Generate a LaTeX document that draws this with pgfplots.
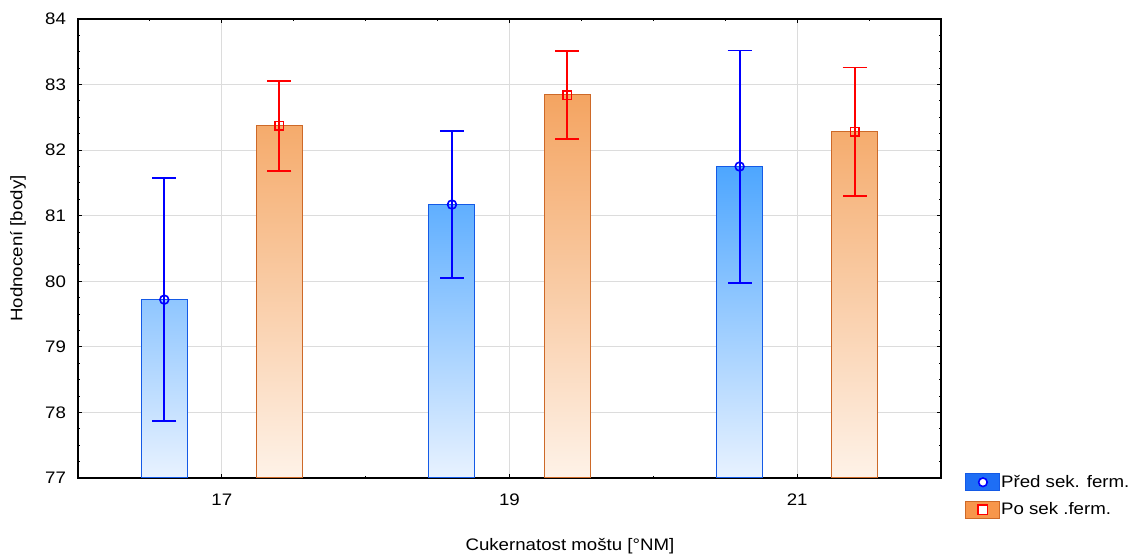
\documentclass[border=0pt]{standalone}
\usepackage{fontspec}
\setmainfont{Liberation Sans}[FakeStretch=1.12]
\usepackage{pgfplots}
\pgfplotsset{compat=1.18}
\definecolor{gridc}{RGB}{220,220,220}
\definecolor{bluebot}{RGB}{232,242,255}
\definecolor{blueA}{RGB}{143,198,255}
\definecolor{blueB}{RGB}{96,175,255}
\definecolor{blueC}{RGB}{77,166,255}
\definecolor{blueedge}{RGB}{20,90,230}
\definecolor{orbot}{RGB}{254,242,232}
\definecolor{orA}{RGB}{245,171,108}
\definecolor{orB}{RGB}{244,164,97}
\definecolor{orC}{RGB}{245,172,110}
\definecolor{oredge}{RGB}{205,105,40}
\definecolor{legblue}{RGB}{30,110,245}
\definecolor{legor}{RGB}{247,150,75}
\definecolor{pureblue}{RGB}{0,0,255}
\definecolor{purered}{RGB}{255,0,0}
\begin{document}
\begin{tikzpicture}
\begin{axis}[
  at={(0pt,0pt)}, anchor=south west,
  scale only axis, width=647.25pt, height=344.25pt,
  xmin=16, xmax=22, ymin=77, ymax=84,
  font=\fontsize{12.5}{15}\selectfont,
  /pgf/number format/assume math mode=true,
  xtick={17,19,21},
  minor xtick={16.5,17.5,18,18.5,19.5,20,20.5,21.5},
  ytick={77,78,79,80,81,82,83,84},
  minor y tick num=3,
  tick align=inside,
  major tick length=3pt, minor tick length=1.8pt,
  tick style={black, line width=0.8pt},
  axis line style={black, line width=1.3pt},
  xmajorgrids, ymajorgrids,
  major grid style={gridc, line width=0.75pt},
  yticklabel style={anchor=east, xshift=-5.5pt},
  xticklabel style={anchor=base, yshift=-20.25pt},
  xlabel={Cukernatost moštu [°NM]},
  ylabel={Hodnocení [body]},
  xlabel style={at={(axis description cs:0.570,-0.148)}, anchor=center},
  ylabel style={at={(axis description cs:-0.0695,0.5)}, anchor=center},
  legend style={at={(axis description cs:1.028,0.011)}, anchor=north west,
    draw=none, fill=none, inner sep=0pt, row sep=7pt,
    nodes={inner xsep=0.5pt, inner ysep=0pt, anchor=west},
    font=\fontsize{12.5}{15}\selectfont},
  legend cell align=left,
]
% bars (bottom at 77)
\addplot[forget plot, draw=blueedge, line width=0.75pt, top color=blueA, bottom color=bluebot]
  coordinates {(16.44,77) (16.76,77) (16.76,79.72) (16.44,79.72)} -- cycle;
\addplot[forget plot, draw=blueedge, line width=0.75pt, top color=blueB, bottom color=bluebot]
  coordinates {(18.44,77) (18.76,77) (18.76,81.17) (18.44,81.17)} -- cycle;
\addplot[forget plot, draw=blueedge, line width=0.75pt, top color=blueC, bottom color=bluebot]
  coordinates {(20.44,77) (20.76,77) (20.76,81.75) (20.44,81.75)} -- cycle;
\addplot[forget plot, draw=oredge, line width=0.75pt, top color=orA, bottom color=orbot]
  coordinates {(17.24,77) (17.56,77) (17.56,82.37) (17.24,82.37)} -- cycle;
\addplot[forget plot, draw=oredge, line width=0.75pt, top color=orB, bottom color=orbot]
  coordinates {(19.24,77) (19.56,77) (19.56,82.85) (19.24,82.85)} -- cycle;
\addplot[forget plot, draw=oredge, line width=0.75pt, top color=orC, bottom color=orbot]
  coordinates {(21.24,77) (21.56,77) (21.56,82.28) (21.24,82.28)} -- cycle;
% means with error bars
\addplot[forget plot, pureblue, only marks, mark=o, mark size=3.3pt, mark options={pureblue, line width=1.2pt},
  error bars/.cd, y dir=both, y explicit,
  error bar style={line width=1.4pt, pureblue},
  error mark options={pureblue, line width=1.4pt, mark size=9pt, rotate=90}]
  coordinates {(16.6,79.72) +- (0,1.85) (18.6,81.17) +- (0,1.12) (20.6,81.75) +- (0,1.77)};
\addplot[forget plot, purered, only marks, mark=square, mark size=3.2pt, mark options={purered, line width=1.2pt},
  error bars/.cd, y dir=both, y explicit,
  error bar style={line width=1.4pt, purered},
  error mark options={purered, line width=1.4pt, mark size=9pt, rotate=90}]
  coordinates {(17.4,82.37) +- (0,0.69) (19.4,82.84) +- (0,0.67) (21.4,82.28) +- (0,0.98)};
% legend
\addlegendimage{legend image code/.code={
  \draw[draw=blueedge, fill=legblue, line width=0.75pt] (0pt,-6.4pt) rectangle (25.5pt,6.4pt);
  \draw[pureblue, fill=white, line width=1.2pt] (12.75pt,0pt) circle (3.2pt);}}
\addlegendentry{Před sek. ferm.}
\addlegendimage{legend image code/.code={
  \draw[draw=oredge, fill=legor, line width=0.75pt] (0pt,-6.4pt) rectangle (25.5pt,6.4pt);
  \draw[purered, fill=white, line width=1.2pt] (9.25pt,-3.5pt) rectangle (16.25pt,3.5pt);}}
\addlegendentry{Po sek .ferm.}
\end{axis}
\pgfresetboundingbox
\path (-58.5pt,-58.5pt) rectangle (797.25pt,358.5pt);
\end{tikzpicture}
\end{document}
